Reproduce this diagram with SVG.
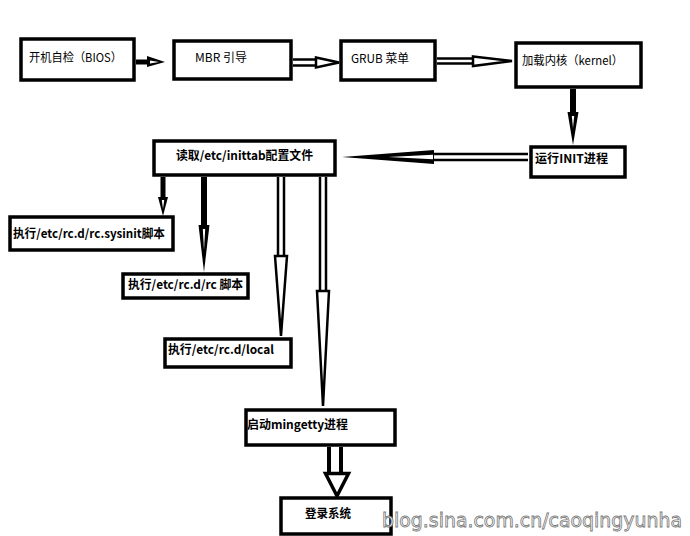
<svg xmlns="http://www.w3.org/2000/svg" width="690" height="536" viewBox="0 0 690 536">
<style>
.box{fill:#fff;stroke:#000;stroke-width:3.5}
.t{font-family:"Noto Sans CJK SC","Noto Sans",sans-serif;font-size:12px;fill:#000}
.b{font-weight:bold}
.sh{stroke:#000;fill:none}
.dl{stroke:#000;stroke-width:2.5;fill:none}
.hw{fill:#fff;stroke:#000;stroke-width:2.5;stroke-linejoin:miter}
.hb{fill:#000}
.sl{fill:#fff}
.wm{font-family:"DejaVu Sans",sans-serif;font-size:19px;fill:#fff;stroke:#777;stroke-width:0.8}
</style>
<rect width="690" height="536" fill="#fff"/>
<g id="connectors">
  <line class="sh" x1="136" y1="62" x2="150" y2="62" stroke-width="5"/>
  <polygon class="hb" points="147,56 165,62 147,67"/>
  <polygon class="sl" points="150,60.5 159,62 150,63.5"/>

  <line class="dl" x1="293" y1="59.5" x2="317" y2="59.5"/>
  <line class="dl" x1="293" y1="65.5" x2="317" y2="65.5"/>
  <polygon class="hw" points="316,57.5 339,62.5 316,67.5"/>

  <line class="dl" x1="437" y1="58.5" x2="474" y2="58.5"/>
  <line class="dl" x1="437" y1="63.5" x2="474" y2="63.5"/>
  <polygon class="hw" points="473,56.5 512,61 473,66"/>

  <line class="sh" x1="573" y1="89" x2="573" y2="115" stroke-width="6"/>
  <polygon class="hb" points="567.5,112 573,145 578.5,112"/>
  <polygon class="sl" points="571.8,116 573,128 574.2,116"/>

  <line class="dl" x1="528" y1="154" x2="433" y2="154"/>
  <line class="dl" x1="528" y1="160" x2="433" y2="160"/>
  <polygon class="hb" points="434,150 342,157 434,164"/>
  <polygon class="sl" points="433,154.8 388,157 433,159.2"/>

  <line class="sh" x1="163" y1="177" x2="163" y2="200" stroke-width="5"/>
  <polygon class="hb" points="158,197 163,216 168,197"/>
  <polygon class="sl" points="161.8,200 163,209 164.2,200"/>

  <line class="sh" x1="204" y1="177" x2="204" y2="228" stroke-width="6"/>
  <polygon class="hb" points="198.5,225 204,272 209.5,225"/>
  <polygon class="sl" points="202.8,229 204,250 205.2,229"/>

  <line class="dl" x1="278" y1="177" x2="278" y2="257"/>
  <line class="dl" x1="284" y1="177" x2="284" y2="257"/>
  <polygon class="hw" points="275,256 281,336 287,256"/>

  <line class="dl" x1="320" y1="177" x2="320" y2="292"/>
  <line class="dl" x1="326" y1="177" x2="326" y2="292"/>
  <polygon class="hw" points="317,291 323,406 329,291"/>

  <line class="sh" x1="329" y1="447" x2="329" y2="474" stroke-width="4"/>
  <line class="sh" x1="341" y1="447" x2="341" y2="474" stroke-width="4"/>
  <polygon class="hw" points="325.5,473.5 337,496 348.5,473.5" style="stroke-width:3.5"/>
</g>
<g id="n1"><rect class="box" x="21" y="39" width="113" height="41"/><text class="t" x="29" y="62" textLength="93" lengthAdjust="spacingAndGlyphs">开机自检（BIOS）</text></g>
<g id="n2"><rect class="box" x="174" y="41" width="117" height="38"/><text class="t" x="195" y="62" textLength="52" lengthAdjust="spacingAndGlyphs">MBR 引导</text></g>
<g id="n3"><rect class="box" x="341" y="41" width="94" height="39"/><text class="t" x="351" y="63" textLength="58" lengthAdjust="spacingAndGlyphs">GRUB 菜单</text></g>
<g id="n4"><rect class="box" x="516" y="43" width="125" height="44"/><text class="t" x="522" y="65" textLength="101" lengthAdjust="spacingAndGlyphs">加载内核（kernel）</text></g>
<g id="n5"><rect class="box" x="531" y="147" width="94" height="30"/><text class="t b" x="535" y="163" textLength="73" lengthAdjust="spacingAndGlyphs">运行INIT进程</text></g>
<g id="n6"><rect class="box" x="154" y="141" width="181" height="34"/><text class="t b" x="176" y="160" textLength="137" lengthAdjust="spacingAndGlyphs">读取/etc/inittab配置文件</text></g>
<g id="n7"><rect class="box" x="10" y="217" width="163" height="33"/><text class="t b" x="13" y="238" textLength="152" lengthAdjust="spacingAndGlyphs">执行/etc/rc.d/rc.sysinit脚本</text></g>
<g id="n8"><rect class="box" x="123" y="274" width="125" height="24"/><text class="t b" x="128" y="289" textLength="115" lengthAdjust="spacingAndGlyphs">执行/etc/rc.d/rc 脚本</text></g>
<g id="n9"><rect class="box" x="165" y="339" width="126" height="28"/><text class="t b" x="168" y="354" textLength="106" lengthAdjust="spacingAndGlyphs">执行/etc/rc.d/local</text></g>
<g id="n10"><rect class="box" x="246" y="410" width="149" height="35"/><text class="t b" x="247" y="429" textLength="101" lengthAdjust="spacingAndGlyphs">启动mingetty进程</text></g>
<g id="n11"><rect class="box" x="281" y="498" width="110" height="36"/><text class="t b" x="305" y="518" textLength="46" lengthAdjust="spacingAndGlyphs">登录系统</text></g>
<text class="wm" x="382" y="527" textLength="300" lengthAdjust="spacingAndGlyphs">blog.sina.com.cn/caoqingyunha</text>
</svg>
